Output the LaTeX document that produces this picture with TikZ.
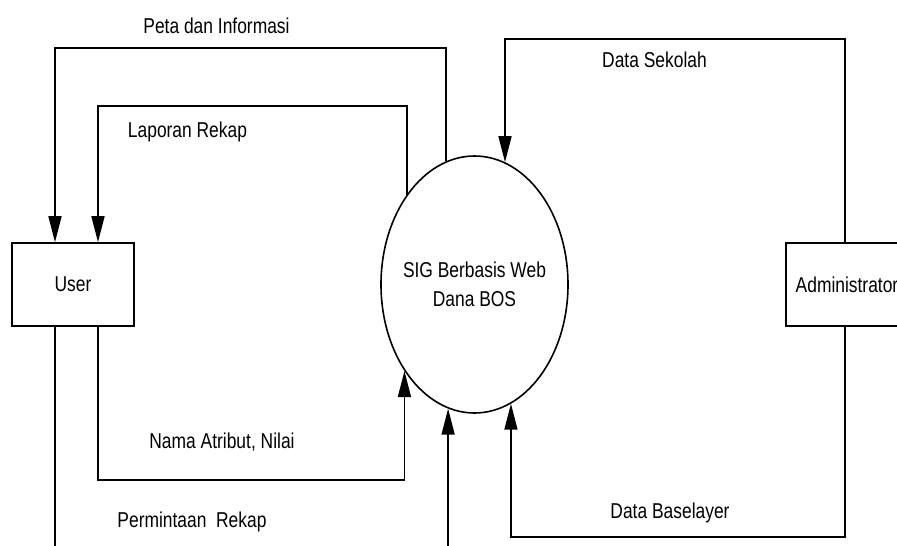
\documentclass[tikz,border=0pt]{standalone}
\usepackage{fontspec}
\setmainfont{Liberation Sans}[FakeStretch=0.81]
\usetikzlibrary{arrows.meta,shapes.geometric,calc}
\begin{document}
\begin{tikzpicture}[x=1pt,y=-1pt,
  conn/.style={line width=1.6pt},
  arr/.style={conn, -{Triangle[length=26pt,width=13pt]}},
  txt/.style={font=\fontsize{21.5}{29}\selectfont},
  box/.style={draw, conn, txt, minimum width=122pt, minimum height=83pt, inner sep=0pt},
  lbl/.style={txt, inner sep=0pt, anchor=base},
]
\useasboundingbox (0,0) rectangle (897,546);
\fill[white] (0,0) rectangle (897,546);
\clip (0,0) rectangle (897,546);

% nodes
\node[box] (user) at (73,284.5) {User};
\node[box] (adm) at (847,284.5) {Administrator};
\node[draw, conn, ellipse, minimum width=187pt, minimum height=257pt, inner sep=0pt] (ell) at (474.5,284.5) {};
\node[txt, align=center, inner sep=0pt] (ellT) at (ell.center) {SIG Berbasis Web\\Dana BOS};

% helper coordinates
\coordinate (uA) at ([xshift=-18pt]user.north);
\coordinate (uB) at ([xshift=25pt]user.north);
\coordinate (uC) at ([xshift=-18pt]user.south);
\coordinate (uD) at ([xshift=25pt]user.south);
\coordinate (aN) at ([xshift=-2pt]adm.north);
\coordinate (aS) at ([xshift=-2pt]adm.south);
\coordinate (yPeta) at (0,48);
\coordinate (yLap) at (0,106);
\coordinate (ySek) at (0,39);
\coordinate (yNama) at (0,480);
\coordinate (yPerm) at (0,600);
\coordinate (yBase) at (0,537);

% connectors
\draw[arr] (ell.103.1) |- (yPeta -| uA) -- (uA);
\draw[arr] (ell.127.2) |- (yLap -| uB) -- (uB);
\draw[arr] (aN) |- (ySek -| ell.76.4) -- (ell.76.4);
\draw[arr] (uD) |- (yNama -| ell.231.9) -- (ell.231.9);
\draw[arr] (uC) |- (yPerm -| ell.258.3) -- (ell.258.3);
\draw[arr] (aS) |- (yBase -| ell.287.1) -- (ell.287.1);

% labels
\node[lbl] (tPeta) at (216.5,33) {Peta dan Informasi};
\node[lbl] (tLap) at (187.5,137) {Laporan Rekap};
\node[lbl] (tSek) at (654.5,67) {Data Sekolah};
\node[lbl] (tNama) at (222,448) {Nama Atribut, Nilai};
\node[lbl] (tPerm) at (192,527) {Permintaan\ \ Rekap};
\node[lbl] (tBase) at (670,518) {Data Baselayer};
\end{tikzpicture}
\end{document}
